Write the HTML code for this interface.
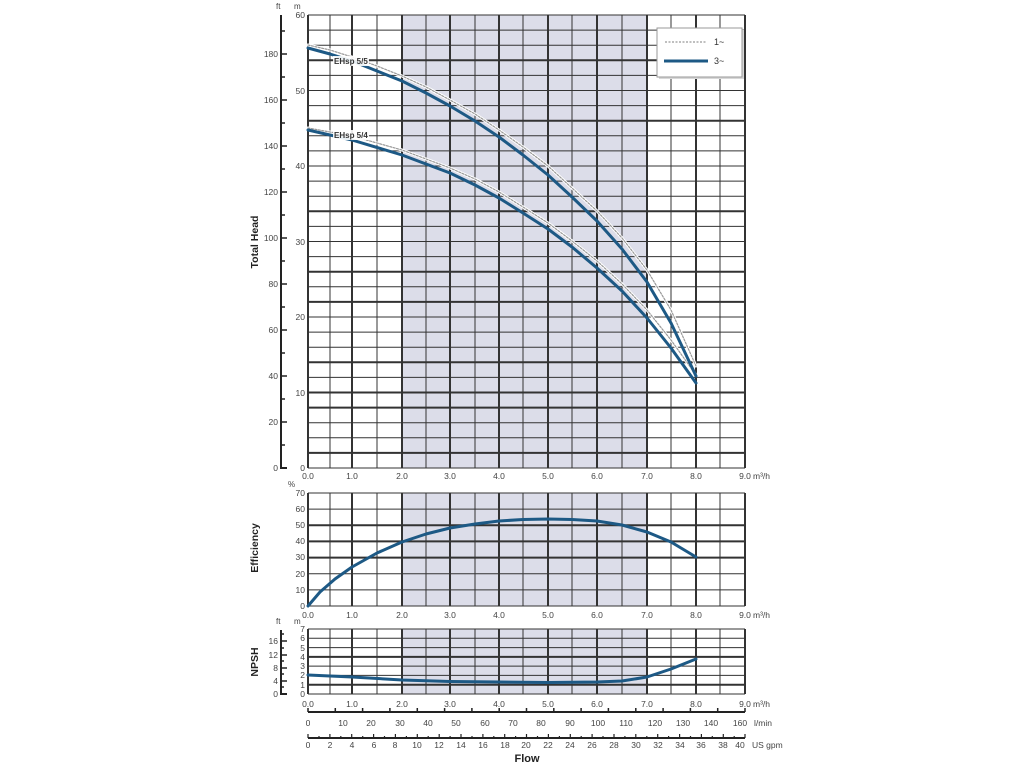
<!DOCTYPE html>
<html><head><meta charset="utf-8"><style>
html,body{margin:0;padding:0;background:#fff}
svg{display:block;font-family:"Liberation Sans",sans-serif}
</style></head><body>
<svg width="1024" height="768" viewBox="0 0 1024 768" xmlns="http://www.w3.org/2000/svg">
<!-- shaded regions -->
<rect x="402" y="15" width="245" height="453" fill="#dcdde9"/>
<rect x="402" y="493" width="245" height="113" fill="#dcdde9"/>
<rect x="402" y="629" width="245" height="65" fill="#dcdde9"/>

<!-- HEAD grid -->
<g stroke="#333" stroke-width="1" fill="none">
<path d="M308 15H745M308 30.1H745M308 45.2H745M308 75.4H745M308 90.5H745M308 105.6H745M308 135.8H745M308 150.9H745M308 166H745M308 181.1H745M308 196.2H745M308 226.4H745M308 241.5H745M308 256.6H745M308 286.8H745M308 317H745M308 332.1H745M308 347.2H745M308 377.4H745M308 422.7H745M308 437.8H745M308 468H745"/>
<path stroke-width="2" d="M308 60.3H745M308 120.7H745M308 211.3H745M308 271.7H745M308 301.9H745M308 362.3H745M308 392.5H745M308 407.6H745M308 452.9H745"/>
<path d="M330 15V468M377 15V468M426 15V468M475 15V468M523 15V468M572 15V468M622 15V468M671 15V468M720 15V468"/>
<path stroke-width="2" d="M308 15V468M352 15V468M402 15V468M450 15V468M499 15V468M548 15V468M597 15V468M647 15V468M696 15V468M745 15V468"/>
</g>
<!-- EFF grid -->
<g stroke="#333" stroke-width="1" fill="none">
<path d="M308 493H745M308 509.1H745M308 573.7H745M308 589.9H745M308 606H745"/>
<path stroke-width="2" d="M308 525.3H745M308 541.4H745M308 557.6H745"/>
<path d="M330 493V606M377 493V606M426 493V606M475 493V606M523 493V606M572 493V606M622 493V606M671 493V606M720 493V606"/>
<path stroke-width="2" d="M308 493V606M352 493V606M402 493V606M450 493V606M499 493V606M548 493V606M597 493V606M647 493V606M696 493V606M745 493V606"/>
</g>
<!-- NPSH grid -->
<g stroke="#333" stroke-width="1" fill="none">
<path d="M308 629H745M308 638.3H745M308 647.6H745M308 666.1H745M308 675.4H745M308 694H745"/>
<path stroke-width="2" d="M308 656.9H745M308 684.7H745"/>
<path d="M330 629V694M377 629V694M426 629V694M475 629V694M523 629V694M572 629V694M622 629V694M671 629V694M720 629V694"/>
<path stroke-width="2" d="M308 629V694M352 629V694M402 629V694M450 629V694M499 629V694M548 629V694M597 629V694M647 629V694M696 629V694M745 629V694"/>
</g>

<!-- ft axes -->
<g stroke="#222" stroke-width="2" fill="none">
<path d="M281 15V468H287"/>
<path stroke-width="1.5" d="M281 54H287M281 100H287M281 146H287M281 192H287M281 238H287M281 284H287M281 330H287M281 376H287M281 422H287M281 31H285M281 77H285M281 123H285M281 169H285M281 215H285M281 261H285M281 307H285M281 353H285M281 399H285M281 445H285"/>
<path d="M281 630V694H287"/>
<path stroke-width="1.5" d="M281 641H287M281 655H287M281 668H287M281 681H287M281 648H284M281 661H284M281 674H284M281 687H284M281 634H284"/>
</g>
<g font-size="8.5" fill="#444" text-anchor="end">
<text x="278" y="57">180</text><text x="278" y="103">160</text><text x="278" y="149">140</text><text x="278" y="195">120</text><text x="278" y="241">100</text><text x="278" y="287">80</text><text x="278" y="333">60</text><text x="278" y="379">40</text><text x="278" y="425">20</text><text x="278" y="471">0</text>
<text x="305" y="18">60</text><text x="305" y="94">50</text><text x="305" y="169">40</text><text x="305" y="245">30</text><text x="305" y="320">20</text><text x="305" y="396">10</text><text x="305" y="471">0</text>
<text x="305" y="496">70</text><text x="305" y="512">60</text><text x="305" y="528">50</text><text x="305" y="544">40</text><text x="305" y="560">30</text><text x="305" y="577">20</text><text x="305" y="593">10</text><text x="305" y="609">0</text>
<text x="305" y="632">7</text><text x="305" y="641">6</text><text x="305" y="651">5</text><text x="305" y="660">4</text><text x="305" y="669">3</text><text x="305" y="678">2</text><text x="305" y="688">1</text><text x="305" y="697">0</text>
<text x="278" y="644">16</text><text x="278" y="658">12</text><text x="278" y="671">8</text><text x="278" y="684">4</text><text x="278" y="697">0</text>
</g>
<g font-size="8" fill="#444">
<text x="276" y="9">ft</text><text x="294" y="9">m</text>
<text x="288" y="487">%</text>
<text x="276" y="624">ft</text><text x="294" y="624">m</text>
</g>

<!-- x labels -->
<g font-size="8.5" fill="#444" text-anchor="middle">
<g id="xl">
<text x="308" y="479">0.0</text><text x="352" y="479">1.0</text><text x="402" y="479">2.0</text><text x="450" y="479">3.0</text><text x="499" y="479">4.0</text><text x="548" y="479">5.0</text><text x="597" y="479">6.0</text><text x="647" y="479">7.0</text><text x="696" y="479">8.0</text><text x="745" y="479">9.0</text>
</g>
<text x="308" y="618">0.0</text><text x="352" y="618">1.0</text><text x="402" y="618">2.0</text><text x="450" y="618">3.0</text><text x="499" y="618">4.0</text><text x="548" y="618">5.0</text><text x="597" y="618">6.0</text><text x="647" y="618">7.0</text><text x="696" y="618">8.0</text><text x="745" y="618">9.0</text>
<text x="308" y="707">0.0</text><text x="352" y="707">1.0</text><text x="402" y="707">2.0</text><text x="450" y="707">3.0</text><text x="499" y="707">4.0</text><text x="548" y="707">5.0</text><text x="597" y="707">6.0</text><text x="647" y="707">7.0</text><text x="696" y="707">8.0</text><text x="745" y="707">9.0</text>
</g>
<g font-size="8.5" fill="#444">
<text x="753" y="479">m³/h</text><text x="753" y="618">m³/h</text><text x="753" y="707">m³/h</text>
<text x="754" y="726">l/min</text><text x="752" y="748">US gpm</text>
</g>

<!-- l/min axis -->
<g stroke="#222" fill="none">
<path stroke-width="2" d="M308 712H745"/>
<path stroke-width="1.5" d="M308 708V712M335.3 708V712M362.6 708V712M389.9 708V712M417.3 708V712M444.6 708V712M471.9 708V712M499.2 708V712M526.5 708V712M553.8 708V712M581.1 708V712M608.4 708V712M635.8 708V712M663.1 708V712M690.4 708V712M717.7 708V712M745 708V712"/>
<path stroke-width="2" d="M308 738H745"/>
<path stroke-width="1.2" d="M308 734V738M329.9 734V738M351.7 734V738M373.6 734V738M395.4 734V738M417.3 734V738M439.2 734V738M461 734V738M482.9 734V738M504.7 734V738M526.5 734V738M548.4 734V738M570.3 734V738M592.1 734V738M614 734V738M635.8 734V738M657.7 734V738M679.6 734V738M701.4 734V738M723.3 734V738M745 734V738M319 736V738M340.8 736V738M362.7 736V738M384.5 736V738M406.4 736V738M428.2 736V738M450.1 736V738M472 736V738M493.8 736V738M515.6 736V738M537.5 736V738M559.4 736V738M581.2 736V738M603 736V738M624.9 736V738M646.8 736V738M668.6 736V738M690.5 736V738M712.3 736V738M734.2 736V738"/>
</g>
<g font-size="8.5" fill="#444" text-anchor="middle">
<text x="308" y="726">0</text><text x="343" y="726">10</text><text x="371" y="726">20</text><text x="400" y="726">30</text><text x="428" y="726">40</text><text x="456" y="726">50</text><text x="485" y="726">60</text><text x="513" y="726">70</text><text x="541" y="726">80</text><text x="570" y="726">90</text><text x="598" y="726">100</text><text x="626" y="726">110</text><text x="655" y="726">120</text><text x="683" y="726">130</text><text x="711" y="726">140</text><text x="740" y="726">160</text>
<text x="308" y="748">0</text><text x="330" y="748">2</text><text x="352" y="748">4</text><text x="374" y="748">6</text><text x="395" y="748">8</text><text x="417" y="748">10</text><text x="439" y="748">12</text><text x="461" y="748">14</text><text x="483" y="748">16</text><text x="505" y="748">18</text><text x="526" y="748">20</text><text x="548" y="748">22</text><text x="570" y="748">24</text><text x="592" y="748">26</text><text x="614" y="748">28</text><text x="636" y="748">30</text><text x="658" y="748">32</text><text x="680" y="748">34</text><text x="701" y="748">36</text><text x="723" y="748">38</text><text x="740" y="748">40</text>
</g>
<text x="527" y="762" font-size="11" font-weight="bold" fill="#222" text-anchor="middle">Flow</text>

<!-- y titles -->
<g font-size="10.5" font-weight="bold" fill="#222" text-anchor="middle">
<text transform="translate(258,242) rotate(-90)">Total Head</text>
<text transform="translate(258,548) rotate(-90)">Efficiency</text>
<text transform="translate(258,662) rotate(-90)">NPSH</text>
</g>

<!-- 1~ curves (gray dashed with white halo) -->
<g fill="none" stroke-linejoin="round" stroke-linecap="round">
<polyline stroke="#fff" stroke-width="3" points="308,45 330,50 352,57 377,66 402,76 426,87 450,100 475,114 499,130 523,147 548,166 572,188 597,211 622,238 647,270 671,310 696,366"/>
<polyline stroke="#999" stroke-width="1.2" stroke-dasharray="2,1.5" points="308,45 330,50 352,57 377,66 402,76 426,87 450,100 475,114 499,130 523,147 548,166 572,188 597,211 622,238 647,270 671,310 696,366"/>
<polyline stroke="#fff" stroke-width="3" points="308,128 352,136 402,150 450,168 475,179 499,192 523,207 548,223 572,241 597,261 622,284 647,310 671,340 696,375"/>
<polyline stroke="#999" stroke-width="1.2" stroke-dasharray="2,1.5" points="308,128 352,136 402,150 450,168 475,179 499,192 523,207 548,223 572,241 597,261 622,284 647,310 671,340 696,375"/>
</g>
<!-- 3~ curves -->
<g fill="none" stroke="#1d5985" stroke-width="3" stroke-linejoin="round" stroke-linecap="round">
<polyline points="308,48 330,54 352,61 377,71 402,81 426,93 450,106 475,121 499,137 523,155 548,175 572,197 597,221 622,249 647,282 671,323 696,376"/>
<polyline points="308,130 352,140 402,155 450,173 475,185 499,198 523,213 548,229 572,247 597,268 622,291 647,318 671,348 696,383"/>
<polyline points="308,606 320,592 335,579 352,567 377,553 402,542 426,534 450,528 475,524 499,521 523,519.5 548,519 572,519.5 597,521 622,525 647,532 671,542 696,557"/>
<polyline points="308,675 352,677 402,680 450,681.5 499,682 548,682.5 597,682 622,681 647,677 671,669 696,659"/>
</g>

<!-- curve labels -->
<g font-size="8" font-weight="bold" fill="#333">
<rect x="333" y="56" width="36" height="10" fill="#fff" opacity="0.9"/>
<text x="334" y="64">EHsp 5/5</text>
<rect x="333" y="130" width="36" height="10" fill="#fff" opacity="0.9"/>
<text x="334" y="138">EHsp 5/4</text>
</g>

<!-- legend -->
<rect x="659" y="30" width="85" height="49" fill="#d8d8d8"/>
<rect x="657" y="28" width="85" height="49" fill="#fff" stroke="#999" stroke-width="1"/>
<line x1="665" y1="42" x2="707" y2="42" stroke="#999" stroke-width="1.2" stroke-dasharray="2,1.5"/>
<line x1="664" y1="61" x2="708" y2="61" stroke="#1d5985" stroke-width="3"/>
<g font-size="9" fill="#333"><text x="714" y="45">1~</text><text x="714" y="64">3~</text></g>
</svg>
</body></html>
